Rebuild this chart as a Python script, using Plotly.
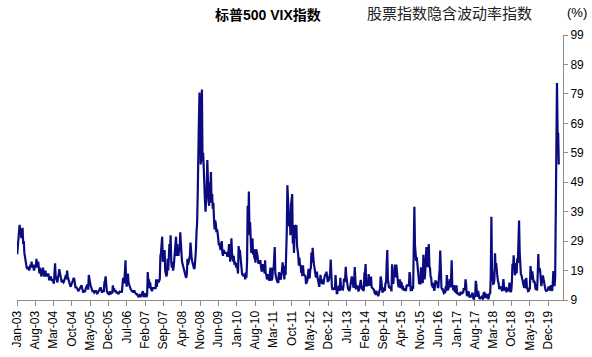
import pandas as pd
import plotly.graph_objects as go

# Weekly (Friday) readings of the VIX, one list per calendar year
vix_2003 = [24.5, 27, 29, 31, 34.5, 33, 31, 30, 32, 33.5, 28, 29, 25, 23, 22, 21, 20, 19.5, 20, 20,
            19, 20, 21, 20, 22, 20, 21, 20, 19, 20, 21, 20, 23, 21, 20, 22, 19, 18, 20, 18,
            17, 18, 19, 20, 18, 17, 18, 19, 17, 18, 17, 18]
vix_2004 = [18, 16, 16, 16.5, 17, 16, 15.5, 16, 15, 14.5, 18, 21.5, 17, 16, 15.5, 15, 17, 17.5, 19.5, 18,
            17, 16, 15, 15.5, 15, 15, 15.5, 16, 17, 17.5, 16, 19, 17, 16, 15.5, 14, 14, 13.5, 14, 14.5,
            15.5, 16, 16.5, 16, 13.5, 13, 13.5, 13, 13, 12.5, 12, 12.5, 13]
vix_2005 = [13, 13.5, 14, 13, 12, 11.5, 12, 12, 12, 13, 14, 14, 14, 12.5, 17.5, 15, 15, 14, 13, 12.5,
            12, 12, 12, 11.5, 12, 12, 12, 11.5, 11, 11.5, 12, 12, 12.5, 13, 13, 12, 11.5, 12, 12, 12,
            15, 15.5, 17, 13.5, 12, 11.5, 11, 11, 11, 12, 11, 11.5]
vix_2006 = [11.5, 11.5, 14, 12.5, 13, 12, 12, 12, 11.5, 11.5, 11.5, 11, 11.5, 12, 12, 11.5, 12, 11.5, 13.5, 16.5,
            15, 15, 18.5, 22.5, 16, 13.5, 16, 18, 15, 14, 13, 13, 12.5, 12, 12, 12, 11.5, 12, 12, 11.5,
            11, 11, 11, 10.5, 10.5, 10, 10.5, 11, 10.5, 10, 11, 11.5]
vix_2007 = [12, 10.5, 10, 11, 11, 10.5, 10, 11, 18.5, 15, 16, 13, 15, 13, 12.5, 12, 13, 13, 13, 13,
            13, 13, 16, 13.5, 15, 16, 15, 15.5, 16, 24, 25, 28, 30.5, 22, 23, 22, 26, 19, 18, 17,
            18, 23, 19, 24, 28, 25, 31, 22, 20, 22, 19, 20]
vix_2008 = [23, 24, 27, 30.5, 24, 28, 25, 24, 26, 26, 32, 26, 25, 22, 21, 20, 20, 18, 18, 17,
            16.5, 18, 23, 21, 22, 23, 24, 28.5, 23, 23, 22, 21, 20, 19.5, 20, 22, 26, 32, 35, 45,
            70, 70, 79.5, 60, 55, 66, 80.5, 56, 59, 54, 44, 43]
vix_2009 = [39, 42, 47, 56.5, 45, 43, 41, 49, 46, 52.5, 42, 45, 40, 42, 37, 33, 36, 35, 32, 33,
            32, 28, 28, 28, 27, 26, 28, 29, 25, 24, 26, 25, 25, 25, 25, 25, 24, 24, 25, 28,
            25, 22, 24, 30, 25, 24, 22, 24, 21, 22, 21, 20]
vix_2010 = [21.5, 18, 18, 27.3, 24.6, 26, 23, 20, 19.5, 17.4, 17.6, 17, 17.8, 17.5, 16, 18.4, 16.6, 22, 41, 31,
            45.8, 32, 35.5, 29, 25, 28.5, 30, 24.4, 26.3, 23.5, 23.5, 21.7, 26.2, 25.5, 24.5, 21.3, 21.3, 22, 21.7, 22.5,
            19, 19, 19, 21.2, 19.4, 20.6, 18, 22.5, 18, 17.6, 16, 16.5, 17.8]
vix_2011 = [17, 15.5, 18.5, 20, 16, 15.7, 16.4, 20, 19, 22, 27, 18, 17.4, 16, 15.3, 15, 14.8, 18.4, 17.1, 17.4,
            15.9, 17.9, 18.9, 21.8, 19.7, 16, 16, 20.6, 17.5, 25, 32, 48, 43, 35.6, 34, 38.5, 31, 41.3, 43, 45,
            28.2, 31.3, 25, 34.5, 30, 32, 34.5, 27.5, 26.3, 24.3, 20.7, 23.4]
vix_2012 = [20.6, 20.9, 18.3, 18.5, 17.1, 20.8, 17.8, 17.3, 17.3, 17.1, 14.5, 15, 15.5, 16.7, 19.6, 17.4, 16.3, 19.2, 19.9, 25.1,
            21.8, 26.7, 21.2, 21.1, 20.1, 17.1, 17.1, 16.7, 18.6, 16.7, 15.6, 14.7, 13.5, 15.2, 17.5, 15.6, 14.5, 14.5, 16, 14.3,
            16.1, 17.1, 17.8, 17.6, 18.6, 16.9, 15.1, 16, 15.9, 17, 18, 22.7]
vix_2013 = [13.8, 13.4, 12.5, 12.9, 12.9, 13, 12.5, 17.5, 13, 11.3, 11.3, 13.6, 12.7, 13.9, 12.1, 16.5, 13.6, 12.9, 12.6, 12.5,
            13.3, 16.3, 15.1, 16.3, 20.3, 16.9, 14.9, 13.8, 12.5, 12.7, 12, 12.9, 14.4, 14.8, 17, 15.8, 14.2, 13.1, 15.5, 20.2,
            15.7, 13, 13.1, 13.9, 12.9, 12.2, 12.3, 13.7, 14, 15.8, 13.8, 12.5]
vix_2014 = [13.8, 12.1, 12.4, 18.1, 18.4, 21.2, 13.6, 14.7, 14, 14.1, 17.8, 15, 14.4, 13.9, 17, 13.4, 13.1, 12.9, 12.9, 12.4,
            11.4, 11.4, 10.7, 12.2, 10.9, 11.3, 10.3, 12.1, 12.1, 12.7, 17, 15.8, 13.2, 11.5, 12, 12.1, 13.3, 12.1, 14.9, 14.6,
            21.2, 26, 16.1, 14, 13.1, 13.3, 12.9, 13.3, 11.9, 21.1, 16.5, 14.5]
vix_2015 = [17.8, 17.6, 21, 16.7, 21, 17.3, 14.7, 14.3, 13.3, 15.2, 16, 13, 15.1, 14.7, 12.6, 13.9, 12.3, 12.7, 12.9, 12.4,
            12.1, 13.8, 14.2, 13.8, 14, 14, 18.5, 17, 12, 13.7, 12.1, 13.4, 12.8, 28, 40.7, 27.8, 23.2, 22.3, 23.6, 20.9,
            17.1, 15, 14.5, 15.1, 14.3, 20.1, 15.5, 15.1, 14.8, 24.4, 20.7, 16]
vix_2016 = [18.2, 27, 27, 22.3, 20.2, 23.4, 28, 20.5, 19.8, 16.9, 16.5, 14, 13.8, 13.1, 14.8, 12.1, 13.2, 15.7, 14.7, 15,
            15.2, 13.1, 13.5, 17, 19.4, 25.8, 14.8, 13.2, 12.7, 12.7, 12, 11.4, 11.6, 11.3, 13.6, 12, 17.5, 15.4, 12.3, 13.3,
            13.5, 16.1, 13.3, 16.2, 22.5, 14.2, 12.9, 12.3, 14.1, 11.8, 12.2, 11.4, 14]
vix_2017 = [11.3, 11.2, 11.5, 10.6, 11, 10.9, 11.5, 11.5, 11, 11.7, 11.3, 13, 12.4, 12.9, 16, 14.6, 10.8, 10.6, 10.4, 12,
            9.8, 9.8, 10.7, 10.4, 10, 11.2, 11.2, 9.5, 9.4, 10.3, 10, 15.5, 14.3, 11.3, 10.1, 12.1, 10.2, 9.6, 9.5, 9.7,
            9.6, 10.1, 9.8, 9.1, 11.3, 11.4, 9.7, 11.4, 9.6, 10.5, 9.9, 11]
vix_2018 = [9.2, 10.2, 11.3, 11.1, 17.3, 37.3, 19.5, 16.5, 14.5, 14.6, 15.8, 24.9, 20, 21.5, 17.4, 16.9, 15.4, 14.8, 12.7, 13.4,
            13.2, 13.5, 12.2, 12, 13.8, 16.1, 13.4, 12.2, 12.9, 13, 11.6, 13.2, 12.6, 12, 12.9, 14.9, 12.1, 11.7, 12.1, 14.8,
            21.3, 19.9, 24.2, 19.5, 17.4, 18.1, 21.5, 18.1, 23.2, 21.6, 30.1, 36]
vix_2019 = [25.4, 18.2, 17.8, 17.4, 16.1, 15.7, 14.9, 13.5, 13.6, 16, 12.9, 16.5, 13.7, 12.8, 12, 12.1, 12.7, 12.9, 20.5, 16,
            15.9, 18.7, 16.3, 15.3, 15.4, 15.1, 13.3, 12.4, 14.5, 12.2, 17.6, 24.6, 18.5, 19.9, 19, 15, 13.7, 15.3, 17.2, 17,
            15.6, 14.3, 12.7, 12.3, 12.1, 12.1, 12.3, 12.6, 13.6, 12.6, 12.5, 13.4]
vix_2020 = [14, 12.6, 12.1, 14.6, 18.8, 15.5, 13.7, 17.1, 40.1, 41.9, 82.7, 66, 65.5, 55]

yearly = {2003: vix_2003, 2004: vix_2004, 2005: vix_2005, 2006: vix_2006, 2007: vix_2007,
          2008: vix_2008, 2009: vix_2009, 2010: vix_2010, 2011: vix_2011, 2012: vix_2012,
          2013: vix_2013, 2014: vix_2014, 2015: vix_2015, 2016: vix_2016, 2017: vix_2017,
          2018: vix_2018, 2019: vix_2019, 2020: vix_2020}

tick_labels = ['Jan-03', 'Aug-03', 'Mar-04', 'Oct-04', 'May-05', 'Dec-05', 'Jul-06', 'Feb-07',
               'Sep-07', 'Apr-08', 'Nov-08', 'Jun-09', 'Jan-10', 'Aug-10', 'Mar-11', 'Oct-11',
               'May-12', 'Dec-12', 'Jul-13', 'Feb-14', 'Sep-14', 'Apr-15', 'Nov-15', 'Jun-16',
               'Jan-17', 'Aug-17', 'Mar-18', 'Oct-18', 'May-19', 'Dec-19']
y_ticks = [9, 19, 29, 39, 49, 59, 69, 79, 89, 99]

dates, values = [], []
for yr, vals in yearly.items():
    fr = pd.date_range(f'{yr}-01-01', f'{yr}-12-31', freq='W-FRI')[:len(vals)]
    dates.extend(fr)
    values.extend(vals[:len(fr)])

tick_vals = [pd.to_datetime(t, format='%b-%y') for t in tick_labels]

fig = go.Figure()
fig.add_trace(go.Scatter(x=dates, y=values, mode='lines',
                         line=dict(color='#0b0b80', width=2.2), showlegend=False,
                         name='股票指数隐含波动率指数'))

axis_grey = '#8c8c8c'
fig.update_layout(
    width=592, height=357,
    margin=dict(l=17, r=29, t=35, b=57),
    paper_bgcolor='white', plot_bgcolor='white',
    font=dict(family='Liberation Sans, Arial, Noto Sans CJK SC', size=12, color='#000000'),
    xaxis=dict(range=['2003-01-01', '2020-05-22'], tickvals=tick_vals, ticktext=tick_labels,
               tickangle=-90, ticks='outside', ticklen=5, tickcolor=axis_grey,
               showline=True, linecolor=axis_grey, linewidth=1, showgrid=False,
               zeroline=False, automargin=False, tickfont=dict(size=12)),
    yaxis=dict(range=[9, 99], tickvals=y_ticks, side='right', ticks='outside', ticklen=4,
               tickcolor=axis_grey, showline=True, linecolor=axis_grey, linewidth=1,
               showgrid=False, zeroline=False, automargin=False, tickfont=dict(size=12)),
    annotations=[
        dict(text='<b>标普500 VIX指数</b>', xref='paper', yref='paper', x=0.4597, y=1.075,
             xanchor='center', yanchor='middle', showarrow=False,
             font=dict(size=14, family='Liberation Sans, Noto Sans CJK SC', color='#000000')),
        dict(text='股票指数隐含波动率指数', xref='paper', yref='paper', x=0.792, y=1.085,
             xanchor='center', yanchor='middle', showarrow=False,
             font=dict(size=15, family='Noto Sans CJK SC', color='#222222')),
        dict(text='(%)', xref='paper', yref='paper', x=1.0256, y=1.085,
             xanchor='center', yanchor='middle', showarrow=False,
             font=dict(size=13, family='Liberation Sans', color='#000000')),
    ],
)

fig.write_html('out.html', config={'displayModeBar': False},
               post_script="document.body.style.margin='0px';document.body.style.overflow='hidden';")
